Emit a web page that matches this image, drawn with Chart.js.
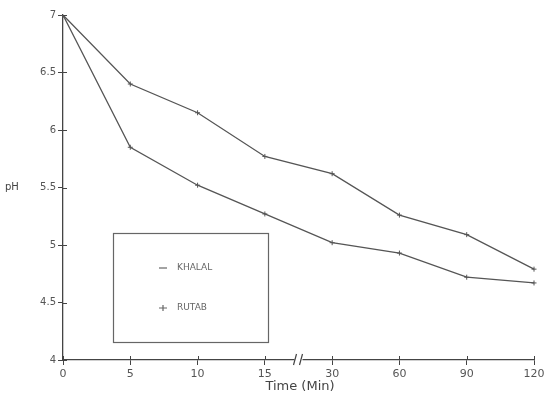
<!DOCTYPE html>
<html>
<head>
<meta charset="utf-8">
<script src="https://cdn.jsdelivr.net/npm/chart.js@4"></script>
<style>
  html, body { margin: 0; padding: 0; background: #fff; }
  #wrap { width: 549px; height: 405px; }
</style>
</head>
<body>
<div id="wrap"><canvas id="chart"></canvas></div>
<script>
// data
const timeLabels = ['0', '5', '10', '15', '30', '60', '90', '120'];
const khalal = [7.0, 6.4, 6.15, 5.77, 5.62, 5.26, 5.09, 4.79];
const rutab = [7.0, 5.85, 5.52, 5.27, 5.02, 4.93, 4.72, 4.67];
const yTickLabels = ['4', '4.5', '5', '5.5', '6', '6.5', '7'];

const ink = '#555';
const font = '"DejaVu Sans", sans-serif';

// legend box, inner tick marks, axis break and axis titles
const extras = {
  id: 'extras',
  afterDraw(chart) {
    const ctx = chart.ctx;
    const x = chart.scales.x;
    const y = chart.scales.y;
    ctx.save();

    // ticks also poke into the plot, like the original
    ctx.strokeStyle = '#444';
    ctx.lineWidth = 1;
    ctx.beginPath();
    x.ticks.forEach((t, i) => {
      const px = Math.round(x.getPixelForTick(i)) + 0.5;
      ctx.moveTo(px, y.bottom); ctx.lineTo(px, y.bottom - 4);
    });
    y.ticks.forEach((t, i) => {
      const py = Math.round(y.getPixelForTick(i)) + 0.5;
      ctx.moveTo(x.left, py); ctx.lineTo(x.left + 4, py);
    });
    ctx.stroke();

    // legend box
    ctx.strokeStyle = '#666';
    ctx.lineWidth = 1.2;
    ctx.strokeRect(113.5, 233.5, 155, 109);
    ctx.fillStyle = '#666';
    ctx.font = '9px ' + font;
    ctx.textBaseline = 'middle';
    chart.data.datasets.forEach((ds, i) => {
      const ly = 268 + i * 40;
      ctx.beginPath();
      ctx.moveTo(159, ly);
      ctx.lineTo(167, ly);
      if (i === 1) { ctx.moveTo(163, ly - 3); ctx.lineTo(163, ly + 3); }
      ctx.stroke();
      ctx.fillText(ds.label, 177, ly);
    });

    // axis break "//"
    const bx = (x.getPixelForValue(3) + x.getPixelForValue(4)) / 2;
    const by = y.bottom;
    ctx.fillStyle = '#fff';
    ctx.fillRect(bx - 4, by - 2, 8, 4);
    ctx.strokeStyle = '#444';
    ctx.lineWidth = 1.2;
    ctx.beginPath();
    ctx.moveTo(bx - 5, by + 5); ctx.lineTo(bx - 2, by - 6);
    ctx.moveTo(bx + 1, by + 5); ctx.lineTo(bx + 4, by - 6);
    ctx.stroke();

    // axis titles
    ctx.fillStyle = '#444';
    ctx.font = '10px ' + font;
    ctx.textAlign = 'left';
    ctx.fillText('pH', 5, y.getPixelForValue(5.5));
    ctx.font = '13px ' + font;
    ctx.textAlign = 'center';
    ctx.fillText('Time (Min)', 300, 387);
    ctx.restore();
  }
};

new Chart(document.getElementById('chart'), {
  type: 'line',
  data: {
    labels: timeLabels,
    datasets: [
      { label: 'KHALAL', data: khalal },
      { label: 'RUTAB', data: rutab }
    ].map(d => ({
      ...d,
      borderColor: ink,
      backgroundColor: ink,
      borderWidth: 1.3,
      pointStyle: 'cross',
      pointRadius: 2.5,
      pointBorderWidth: 1,
      tension: 0
    }))
  },
  options: {
    responsive: true,
    maintainAspectRatio: false,
    animation: false,
    layout: { padding: { top: 15, right: 15, left: 0, bottom: 0 } },
    plugins: { legend: { display: false }, tooltip: { enabled: false } },
    scales: {
      x: {
        offset: false,
        afterFit: s => { s.height = 45; },
        border: { color: '#444', width: 1.3 },
        grid: { drawOnChartArea: false, drawTicks: true, tickLength: 5, color: '#444' },
        ticks: { color: '#555', font: { family: font, size: 11 }, padding: 3, maxRotation: 0 }
      },
      y: {
        min: 4,
        max: 7,
        afterFit: s => { s.width = 63; },
        border: { color: '#444', width: 1.3 },
        grid: { drawOnChartArea: false, drawTicks: true, tickLength: 5, color: '#444' },
        ticks: {
          stepSize: 0.5,
          color: '#555',
          font: { family: font, size: 10 },
          padding: 2,
          callback: (v, i) => yTickLabels[i]
        }
      }
    }
  },
  plugins: [extras]
});
</script>
</body>
</html>
